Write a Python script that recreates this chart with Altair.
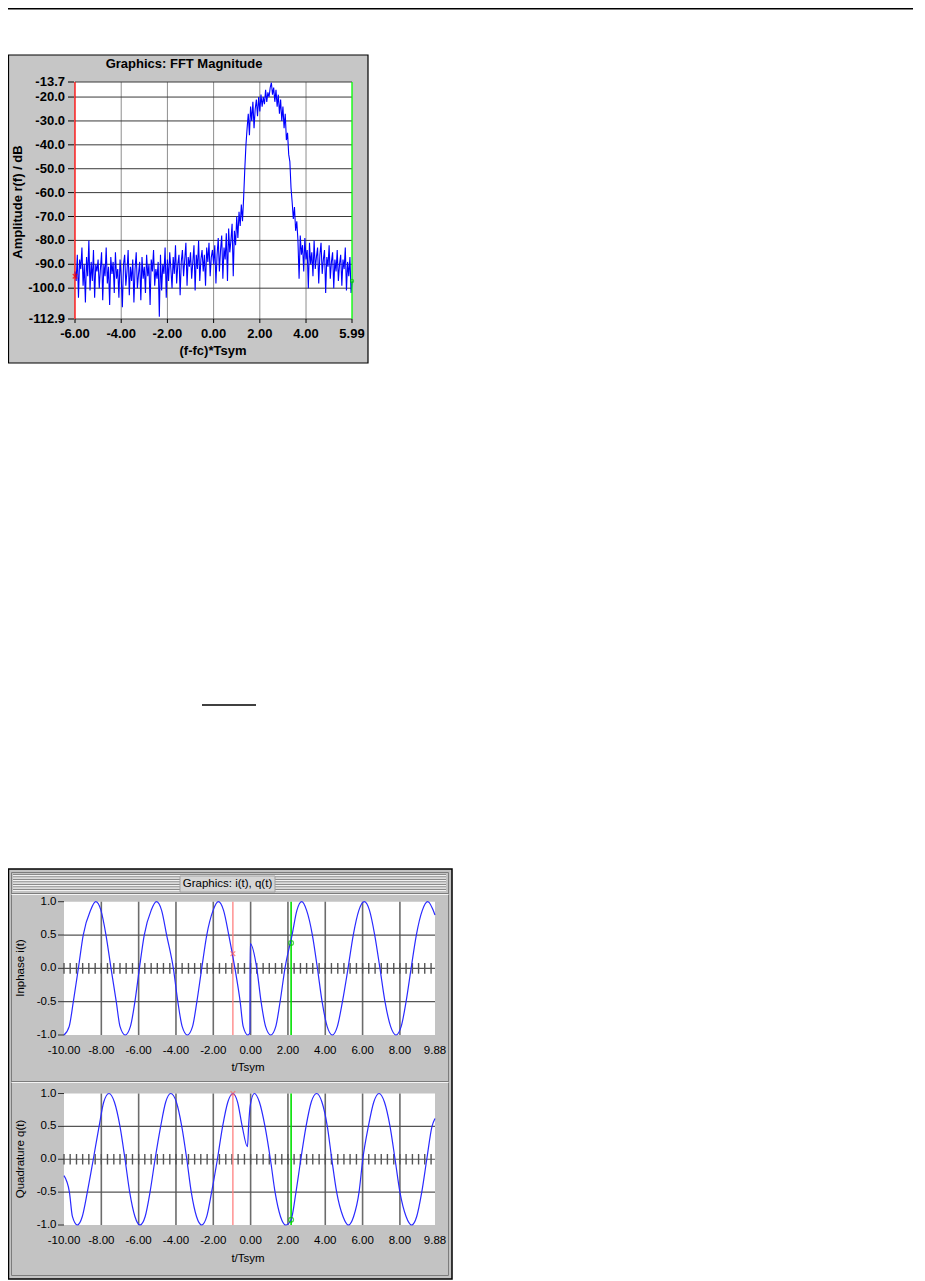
import altair as alt
import pandas as pd

FONT = "Liberation Sans"
W, H = 905, 1272

# ---------------- data ----------------
# FFT magnitude (dB), one value every FFT_STEP starting at FFT_START
FFT_START = -6.0
FFT_STEP = 0.05
FFT_DB = [
    -93, -97, -86, -104, -88, -92, -83, -99, -90, -106, -87, -95, -80, -101, -89, -97, -84, -104, -90, -93,
    -88, -100, -92, -85, -105, -90, -95, -83, -98, -91, -107, -87, -94, -89, -102, -85, -96, -92, -104, -88,
    -95, -108, -90, -86, -99, -93, -84, -103, -91, -97, -88, -106, -92, -85, -100, -94, -89, -105, -87, -96,
    -91, -102, -86, -95, -90, -107, -88, -93, -84, -99, -92, -96, -89, -112, -86, -101, -90, -94, -83, -104,
    -88, -97, -85, -92, -100, -87, -94, -82, -98, -90, -86, -103, -89, -84, -95, -88, -81, -99, -87, -91,
    -85, -96, -89, -82, -101, -86, -92, -80, -97, -88, -84, -93, -86, -99, -83, -89, -81, -95, -87, -84,
    -90, -82, -98, -86, -79, -93, -84, -78, -96, -83, -88, -77, -97, -75, -85, -80, -73, -95, -76, -82,
    -70, -79, -68, -74, -65, -72, -62, -50, -40, -33,
    -27, -36, -24, -30, -22, -33, -25, -21, -28, -20, -26, -19, -24, -20, -23, -17, -22, -18, -20, -16,
    -14, -19, -16, -22, -17, -24, -19, -27, -21, -30,
    -24, -33, -27, -38, -35, -44, -47, -58, -64, -71,
    -66, -76, -72, -80, -96, -78, -86, -82, -93, -79, -88, -84, -100, -81, -90, -85, -95, -80, -92, -87,
    -83, -98, -86, -81, -94, -88, -84, -102, -87, -91, -82, -96, -89, -85, -100, -88, -93, -84, -97, -90,
    -86, -99, -88, -92, -83, -101, -89, -95, -87, -102, -97,
]
FFT_X = [round(FFT_START + i * FFT_STEP, 2) for i in range(len(FFT_DB))]
FFT_X_TICKS = [-6.0, -4.0, -2.0, 0.0, 2.0, 4.0, 5.99]
FFT_Y_TICKS = [-13.7, -20.0, -30.0, -40.0, -50.0, -60.0, -70.0, -80.0, -90.0, -100.0, -112.9]
FFT_VGRID = [-4.0, -2.0, 0.0, 2.0, 4.0]
FFT_CURSORS = [-6.0, 5.99]
FFT_MARK_DB = [-95.0, -97.0]

# inphase i(t)
I_T = [-10.0, -9.72, -9.5, -9.23, -8.97, -8.58, -8.3, -8.02, -7.75, -7.48, -7.2, -7.0,
       -6.72, -6.44, -6.2, -5.96, -5.70, -5.33, -5.05, -4.77, -4.50, -4.14, -3.90, -3.67,
       -3.39, -3.11, -2.88, -2.62, -2.35, -2.01, -1.73, -1.45, -1.17, -0.84, -0.56, -0.40,
       -0.15, -0.04, -0.02, 0.33, 0.56, 0.80, 1.08, 1.35, 1.58, 1.84, 2.22, 2.48, 2.74,
       3.00, 3.31, 3.58, 3.83, 4.10, 4.38, 4.65, 4.92, 5.22, 5.50, 5.80, 6.09, 6.37, 6.65,
       6.93, 7.20, 7.50, 7.79, 8.07, 8.33, 8.60, 8.88, 9.20, 9.49, 9.88]
I_V = [-1.0, -0.87, -0.5, 0.0, 0.5, 0.87, 1.0, 0.87, 0.5, 0.0, -0.5, -0.87,
       -1.0, -0.87, -0.5, 0.0, 0.5, 0.87, 1.0, 0.87, 0.5, 0.0, -0.5, -0.87,
       -1.0, -0.87, -0.5, 0.0, 0.5, 0.87, 1.0, 0.87, 0.5, 0.0, -0.5, -0.87,
       -1.0, -0.97, 0.37, 0.0, -0.5, -0.87, -1.0, -0.87, -0.5, 0.0, 0.5, 0.87, 1.0,
       0.87, 0.5, 0.0, -0.5, -0.87, -1.0, -0.87, -0.5, 0.0, 0.5, 0.87, 1.0, 0.87, 0.5,
       0.0, -0.5, -0.87, -1.0, -0.87, -0.5, 0.0, 0.5, 0.87, 1.0, 0.8]
# quadrature q(t)
Q_T = [-10.0, -9.71, -9.55, -9.29, -9.02, -8.75, -8.43, -8.12, -7.87, -7.59, -7.30, -7.00,
       -6.73, -6.48, -6.20, -5.93, -5.65, -5.39, -5.12, -4.82, -4.55, -4.28, -3.98, -3.69,
       -3.42, -3.18, -2.90, -2.62, -2.35, -2.09, -1.78, -1.50, -1.22, -0.95, -0.70, -0.45,
       -0.17, -0.10, -0.02, 0.20, 0.47, 0.77, 1.06, 1.31, 1.60, 1.88, 2.17, 2.43, 2.69,
       2.97, 3.25, 3.54, 3.82, 4.11, 4.35, 4.61, 4.95, 5.24, 5.52, 5.81, 6.01, 6.31, 6.60,
       6.88, 7.17, 7.47, 7.74, 8.00, 8.33, 8.63, 8.90, 9.17, 9.44, 9.72, 9.88]
Q_V = [-0.25, -0.5, -0.87, -1.0, -0.87, -0.5, 0.0, 0.5, 0.87, 1.0, 0.87, 0.5,
       0.0, -0.5, -0.87, -1.0, -0.87, -0.5, 0.0, 0.5, 0.87, 1.0, 0.87, 0.5,
       0.0, -0.5, -0.87, -1.0, -0.87, -0.5, 0.0, 0.5, 0.87, 1.0, 0.87, 0.5,
       0.19, 0.55, 0.82, 1.0, 0.87, 0.5, 0.0, -0.5, -0.87, -1.0, -0.92, -0.5, 0.0,
       0.5, 0.87, 1.0, 0.87, 0.5, 0.0, -0.5, -0.87, -1.0, -0.87, -0.5, 0.0, 0.5, 0.87,
       1.0, 0.87, 0.5, 0.0, -0.5, -0.87, -1.0, -0.87, -0.5, 0.0, 0.5, 0.62]
IQ_X_TICKS = [-10.0, -8.0, -6.0, -4.0, -2.0, 0.0, 2.0, 4.0, 6.0, 8.0, 9.88]
IQ_Y_TICKS = [1.0, 0.5, 0.0, -0.5, -1.0]
IQ_VGRID = [-8.0, -6.0, -4.0, -2.0, 0.0, 2.0, 4.0, 6.0, 8.0]
IQ_HGRID = [0.5, 0.0, -0.5]
RULER_TICKS = [-10.0, -9.67, -9.33, -9.0, -8.67, -8.33, -8.0, -7.67, -7.33, -7.0, -6.67, -6.33,
               -6.0, -5.67, -5.33, -5.0, -4.67, -4.33, -4.0, -3.67, -3.33, -3.0, -2.67, -2.33,
               -2.0, -1.67, -1.33, -1.0, -0.67, -0.33, 0.0, 0.33, 0.67, 1.0, 1.33, 1.67,
               2.0, 2.33, 2.67, 3.0, 3.33, 3.67, 4.0, 4.33, 4.67, 5.0, 5.33, 5.67,
               6.0, 6.33, 6.67, 7.0, 7.33, 7.67, 8.0, 8.33, 8.67, 9.0, 9.33, 9.67]
IQ_CURSORS = [-0.95, 2.17]
I_MARK_V = [0.22, 0.38]
Q_MARK_V = [1.0, -0.92]

# ---------------- helpers ----------------
ONE = pd.DataFrame({"k": [0]})
XPATH = "M-1,-1L1,1M-1,1L1,-1"


def rect_px(x, x2, y, y2, **kw):
    return alt.Chart(ONE).mark_rect(**kw).encode(
        x=alt.value(x), x2=alt.value(x2), y=alt.value(y), y2=alt.value(y2))


def rule_px(x, x2, y, **kw):
    return alt.Chart(ONE).mark_rule(**kw).encode(
        x=alt.value(x), x2=alt.value(x2), y=alt.value(y))


def text_px(x, y, text, size, weight="normal", angle=0):
    return alt.Chart(ONE).mark_text(
        text=text, font=FONT, fontSize=size, fontWeight=weight, angle=angle,
        color="black", align="center", baseline="middle").encode(
        x=alt.value(x), y=alt.value(y))


def label_expr(fmt):
    return "replace(format(datum.v, '" + fmt + "'), '\u2212', '-')"


def x_labels(ticks, xs, y_px, fmt, size, weight):
    return alt.Chart(pd.DataFrame({"v": ticks})).transform_calculate(
        lab=label_expr(fmt)).mark_text(
        font=FONT, fontSize=size, fontWeight=weight, color="black",
        align="center", baseline="middle").encode(
        x=alt.X("v:Q", scale=xs, axis=None), y=alt.value(y_px), text="lab:N")


def x_ticks(ticks, xs, y1, y2, color):
    return alt.Chart(pd.DataFrame({"v": ticks})).mark_rule(color=color, strokeWidth=1).encode(
        x=alt.X("v:Q", scale=xs, axis=None), y=alt.value(y1), y2=alt.value(y2))


def y_labels(ticks, ys, x_px, fmt, size, weight):
    return alt.Chart(pd.DataFrame({"v": ticks})).transform_calculate(
        lab=label_expr(fmt)).mark_text(
        font=FONT, fontSize=size, fontWeight=weight, color="black",
        align="right", baseline="middle").encode(
        y=alt.Y("v:Q", scale=ys, axis=None), x=alt.value(x_px), text="lab:N")


def y_ticks(ticks, ys, x1, x2, color):
    return alt.Chart(pd.DataFrame({"v": ticks})).mark_rule(color=color, strokeWidth=1).encode(
        y=alt.Y("v:Q", scale=ys, axis=None), x=alt.value(x1), x2=alt.value(x2))


# ---------------- FFT panel ----------------
fx_lo, fx_hi = FFT_X_TICKS[0], FFT_X_TICKS[-1]
fy_lo, fy_hi = FFT_Y_TICKS[-1], FFT_Y_TICKS[0]
fxs = alt.Scale(domain=[fx_lo, fx_hi], range=[67, 344], nice=False, zero=False)
fys = alt.Scale(domain=[fy_lo, fy_hi], range=[311, 74], nice=False, zero=False)


def fy_span():
    return dict(y=alt.YDatum(fy_lo, type="quantitative", scale=fys, axis=None), y2=alt.Y2Datum(fy_hi))


fft_bg = alt.Chart(ONE).mark_rect(color="white").encode(
    x=alt.XDatum(fx_lo, type="quantitative", scale=fxs, axis=None), x2=alt.X2Datum(fx_hi), **fy_span())
fft_vgrid = alt.Chart(pd.DataFrame({"g": FFT_VGRID})).mark_rule(color="#8e8e8e", strokeWidth=1).encode(
    x=alt.X("g:Q", scale=fxs, axis=None), **fy_span())
fft_hgrid = alt.Chart(pd.DataFrame({"g": FFT_Y_TICKS})).mark_rule(color="#3a3a3a", strokeWidth=1).encode(
    y=alt.Y("g:Q", scale=fys, axis=None),
    x=alt.XDatum(fx_lo, type="quantitative", scale=fxs, axis=None), x2=alt.X2Datum(fx_hi))
fft_line = alt.Chart(pd.DataFrame({"f": FFT_X, "db": FFT_DB})).mark_line(
    color="#0000ff", strokeWidth=1.1, clip=True).encode(
    x=alt.X("f:Q", scale=fxs, axis=None), y=alt.Y("db:Q", scale=fys, axis=None))


def fft_cursor(i, color):
    return alt.Chart(pd.DataFrame({"c": [FFT_CURSORS[i]]})).mark_rule(color=color, strokeWidth=1.3).encode(
        x=alt.X("c:Q", scale=fxs, axis=None), **fy_span())


fft_marks = [
    alt.Chart(pd.DataFrame({"c": [FFT_CURSORS[0]], "m": [FFT_MARK_DB[0]]})).mark_point(
        shape=XPATH, size=20, color="#ff0000", strokeWidth=1.3, filled=False).encode(
        x=alt.X("c:Q", scale=fxs, axis=None), y=alt.Y("m:Q", scale=fys, axis=None)),
    alt.Chart(pd.DataFrame({"c": [FFT_CURSORS[1]], "m": [FFT_MARK_DB[1]]})).mark_point(
        shape="circle", size=10, color="#00cc00", strokeWidth=1.2, filled=False).encode(
        x=alt.X("c:Q", scale=fxs, axis=None), y=alt.Y("m:Q", scale=fys, axis=None)),
]
fft = alt.layer(
    fft_bg, fft_vgrid, fft_hgrid, fft_line,
    fft_cursor(0, "#ff0000"), fft_cursor(1, "#00ff00"), *fft_marks,
    x_ticks(FFT_X_TICKS, fxs, 311, 315, "black"),
    x_labels(FFT_X_TICKS, fxs, 326, ".2f", 13, "bold"),
    y_ticks(FFT_Y_TICKS, fys, 60, 66, "black"),
    y_labels(FFT_Y_TICKS, fys, 57, ".1f", 13, "bold"),
)


# ---------------- i(t) / q(t) panels ----------------
def iq_panel(t_vals, v_vals, mark_v, y_range, axis_line_y):
    x_lo, x_hi = IQ_X_TICKS[0], IQ_X_TICKS[-1]
    y_lo, y_hi = IQ_Y_TICKS[-1], IQ_Y_TICKS[0]
    xs = alt.Scale(domain=[x_lo, x_hi], range=[56, 427], nice=False, zero=False)
    ys = alt.Scale(domain=[y_lo, y_hi], range=y_range, nice=False, zero=False)

    def ydat():
        return dict(y=alt.YDatum(y_lo, type="quantitative", scale=ys, axis=None), y2=alt.Y2Datum(y_hi))

    bg = alt.Chart(ONE).mark_rect(color="white").encode(
        x=alt.XDatum(x_lo, type="quantitative", scale=xs, axis=None), x2=alt.X2Datum(x_hi), **ydat())
    vgrid = alt.Chart(pd.DataFrame({"g": IQ_VGRID})).mark_rule(color="#6c6c6c", strokeWidth=1.6).encode(
        x=alt.X("g:Q", scale=xs, axis=None), **ydat())
    hgrid = alt.Chart(pd.DataFrame({"g": IQ_HGRID})).mark_rule(color="#555555", strokeWidth=1.2).encode(
        y=alt.Y("g:Q", scale=ys, axis=None),
        x=alt.XDatum(x_lo, type="quantitative", scale=xs, axis=None), x2=alt.X2Datum(x_hi))
    ruler = alt.Chart(pd.DataFrame({"r": RULER_TICKS})).mark_rule(color="#555555", strokeWidth=1.4).encode(
        x=alt.X("r:Q", scale=xs, axis=None),
        y=alt.YDatum(-0.08, type="quantitative", scale=ys, axis=None), y2=alt.Y2Datum(0.08))
    cur_red = alt.Chart(pd.DataFrame({"c": [IQ_CURSORS[0]]})).mark_rule(color="#ff8080", strokeWidth=1.3).encode(
        x=alt.X("c:Q", scale=xs, axis=None), **ydat())
    cur_green = alt.Chart(pd.DataFrame({"c": [IQ_CURSORS[1]]})).mark_rule(color="#00e000", strokeWidth=1.6).encode(
        x=alt.X("c:Q", scale=xs, axis=None), **ydat())
    line = alt.Chart(pd.DataFrame({"t": t_vals, "v": v_vals})).mark_line(
        color="#2a2aff", strokeWidth=1.2, interpolate="monotone", clip=True).encode(
        x=alt.X("t:Q", scale=xs, axis=None), y=alt.Y("v:Q", scale=ys, axis=None))
    mk_red = alt.Chart(pd.DataFrame({"c": [IQ_CURSORS[0]], "m": [mark_v[0]]})).mark_point(
        shape=XPATH, size=22, color="#ff6060", strokeWidth=1.3, filled=False).encode(
        x=alt.X("c:Q", scale=xs, axis=None), y=alt.Y("m:Q", scale=ys, axis=None))
    mk_green = alt.Chart(pd.DataFrame({"c": [IQ_CURSORS[1]], "m": [mark_v[1]]})).mark_point(
        shape="circle", size=22, color="#00c000", strokeWidth=1.3, filled=False).encode(
        x=alt.X("c:Q", scale=xs, axis=None), y=alt.Y("m:Q", scale=ys, axis=None))
    return alt.layer(
        bg, vgrid, hgrid, ruler, cur_red, cur_green, line, mk_red, mk_green,
        x_labels(IQ_X_TICKS, xs, axis_line_y + 15.5, ".2f", 11.5, "normal"),
        y_ticks(IQ_Y_TICKS, ys, 50, 56, "#333333"),
        y_labels(IQ_Y_TICKS, ys, 48.5, ".1f", 11.5, "normal"),
    )


iq_i = iq_panel(I_T, I_V, I_MARK_V, [1027, 893.7], 1027)
iq_q = iq_panel(Q_T, Q_V, Q_MARK_V, [1217, 1085.5], 1217)

# ---------------- frames / decoration ----------------
decor = [
    rule_px(0, W, 0.75, color="black", strokeWidth=1.5),
    rule_px(194, 248, 697, color="black", strokeWidth=1.5),
    rect_px(0.5, 360, 47, 355, fill="#c6c6c6", stroke="black", strokeWidth=1.2),
    rect_px(0.5, 444, 861, 1271, fill="#c3c3c3", stroke="black", strokeWidth=1.5),
    rect_px(3.5, 440.5, 864.5, 1267.5, fillOpacity=0, stroke="#7c7c7c", strokeWidth=1),
]
for yy in [866.5, 869, 871.5, 874, 876.5, 879, 881.5]:
    decor.append(rule_px(5, 438, yy, color="#8a8a8a", strokeWidth=1))
    decor.append(rule_px(5, 438, yy + 1, color="#f2f2f2", strokeWidth=1))
decor += [
    rect_px(172, 267, 868, 884, fill="#d6d6d6", stroke="#a0a0a0", strokeWidth=1),
    rule_px(3.5, 440.5, 885.5, color="#7c7c7c", strokeWidth=1),
    rule_px(3.5, 440.5, 886.5, color="#f4f4f4", strokeWidth=1),
    rule_px(3.5, 440.5, 1073.5, color="#7c7c7c", strokeWidth=1),
    rule_px(3.5, 440.5, 1074.5, color="#f4f4f4", strokeWidth=1),
]

texts = [
    text_px(176, 56, "Graphics: FFT Magnitude", 13, "bold"),
    text_px(205, 343, "(f-fc)*Tsym", 13, "bold"),
    text_px(10, 194, "Amplitude r(f) / dB", 13, "bold", 270),
    text_px(219.5, 876, "Graphics: i(t), q(t)", 11.5),
    text_px(240, 1060, "t/Tsym", 11.5),
    text_px(240, 1250.5, "t/Tsym", 11.5),
    text_px(13, 960, "Inphase i(t)", 11.5, angle=270),
    text_px(13, 1151, "Quadrature q(t)", 11.5, angle=270),
]

chart = alt.layer(*decor, fft, iq_i, iq_q, *texts).resolve_scale(
    x="independent", y="independent"
).properties(
    width=W, height=H, padding=0, background="white",
    autosize=alt.AutoSizeParams(type="none"),
).configure_view(stroke="transparent")

chart.save("out.html", embed_options={"renderer": "svg", "actions": False})
